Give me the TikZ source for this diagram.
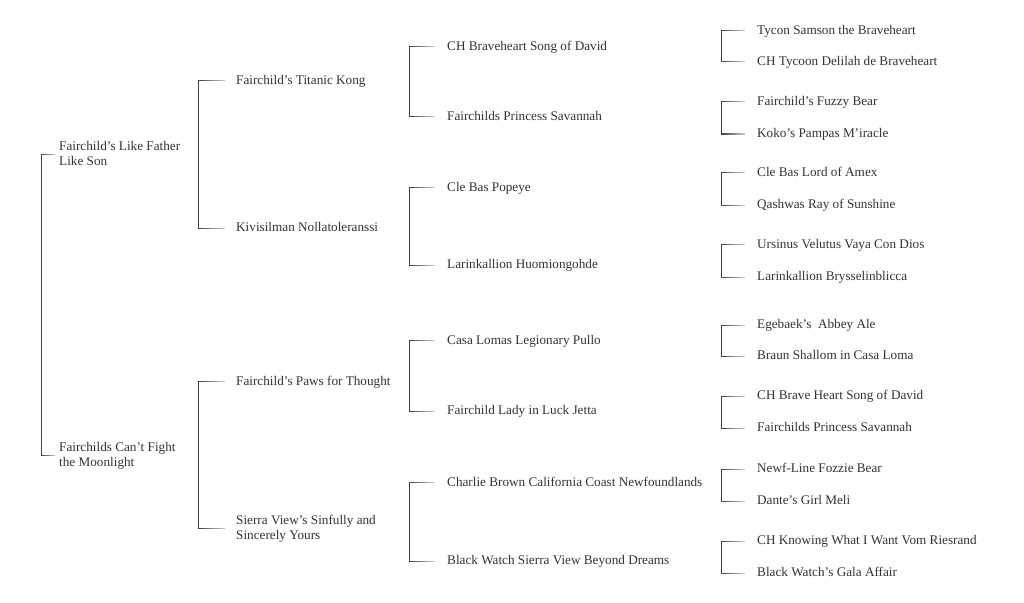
\documentclass[tikz,border=0pt]{standalone}
\usepackage{fontspec}
\setmainfont{Liberation Serif}
\usetikzlibrary{fadings}
\definecolor{txt}{HTML}{333333}
\definecolor{ln}{HTML}{3C3C3C}
\tikzfading[name=tickfade, left color=transparent!0, right color=transparent!75]
\begin{document}
\begin{tikzpicture}[x=1pt,y=-1pt,
  nm/.style={anchor=west,inner sep=0pt,text=txt,font=\fontsize{13.2}{15}\selectfont,text height=9.5pt,text depth=2pt,align=left},
  twoline/.style={nm,text height=24.5pt},
  conn/.style={draw=ln,line width=1pt,path fading=tickfade}]
\useasboundingbox[fill=white] (0,0) rectangle (1024,602);
% generation 0
\node[twoline] (a1) at (59,154) {Fairchild’s Like Father\\Like Son};
\node[twoline] (a2) at (59,455) {Fairchilds Can’t Fight\\the Moonlight};
% generation 1
\node[nm] (b1) at (236,81) {Fairchild’s Titanic Kong};
\node[nm] (b2) at (236,228) {Kivisilman Nollatoleranssi};
\node[nm] (b3) at (236,382) {Fairchild’s Paws for Thought};
\node[twoline] (b4) at (236,528) {Sierra View’s Sinfully and\\Sincerely Yours};
% generation 2
\node[nm] (c1) at (447,47) {CH Braveheart Song of David};
\node[nm] (c2) at (447,117) {Fairchilds Princess Savannah};
\node[nm] (c3) at (447,188) {Cle Bas Popeye};
\node[nm] (c4) at (447,265) {Larinkallion Huomiongohde};
\node[nm] (c5) at (447,341) {Casa Lomas Legionary Pullo};
\node[nm] (c6) at (447,411) {Fairchild Lady in Luck Jetta};
\node[nm] (c7) at (447,483) {Charlie Brown California Coast Newfoundlands};
\node[nm] (c8) at (447,561) {Black Watch Sierra View Beyond Dreams};
% generation 3
\node[nm] (d1) at (757,31) {Tycon Samson the Braveheart};
\node[nm] (d2) at (757,62) {CH Tycoon Delilah de Braveheart};
\node[nm] (d3) at (757,102) {Fairchild’s Fuzzy Bear};
\node[nm] (d4) at (757,134) {Koko’s Pampas M’iracle};
\node[nm] (d5) at (757,173) {Cle Bas Lord of Amex};
\node[nm] (d6) at (757,205) {Qashwas Ray of Sunshine};
\node[nm] (d7) at (757,245) {Ursinus Velutus Vaya Con Dios};
\node[nm] (d8) at (757,277) {Larinkallion Brysselinblicca};
\node[nm] (d9) at (757,325) {Egebaek’s\ \ Abbey Ale};
\node[nm] (d10) at (757,356) {Braun Shallom in Casa Loma};
\node[nm] (d11) at (757,396) {CH Brave Heart Song of David};
\node[nm] (d12) at (757,428) {Fairchilds Princess Savannah};
\node[nm] (d13) at (757,469) {Newf-Line Fozzie Bear};
\node[nm] (d14) at (757,501) {Dante’s Girl Meli};
\node[nm] (d15) at (757,541) {CH Knowing What I Want Vom Riesrand};
\node[nm] (d16) at (757,573) {Black Watch’s Gala Affair};
% brackets
\draw[conn] ([xshift=-4pt]a1.west) -- ++(-14,0) |- ([xshift=-4pt]a2.west);
\foreach \u/\v in {b1/b2,b3/b4}
  \draw[conn] ([xshift=-11pt]\u.west) -- ++(-27,0) |- ([xshift=-11pt]\v.west);
\foreach \u/\v in {c1/c2,c3/c4,c5/c6,c7/c8}
  \draw[conn] ([xshift=-12pt]\u.west) -- ++(-26,0) |- ([xshift=-12pt]\v.west);
\foreach \u/\v in {d1/d2,d3/d4,d5/d6,d7/d8,d9/d10,d11/d12,d13/d14,d15/d16}
  \draw[conn] ([xshift=-12pt]\u.west) -- ++(-24,0) |- ([xshift=-12pt]\v.west);
\end{tikzpicture}
\end{document}
